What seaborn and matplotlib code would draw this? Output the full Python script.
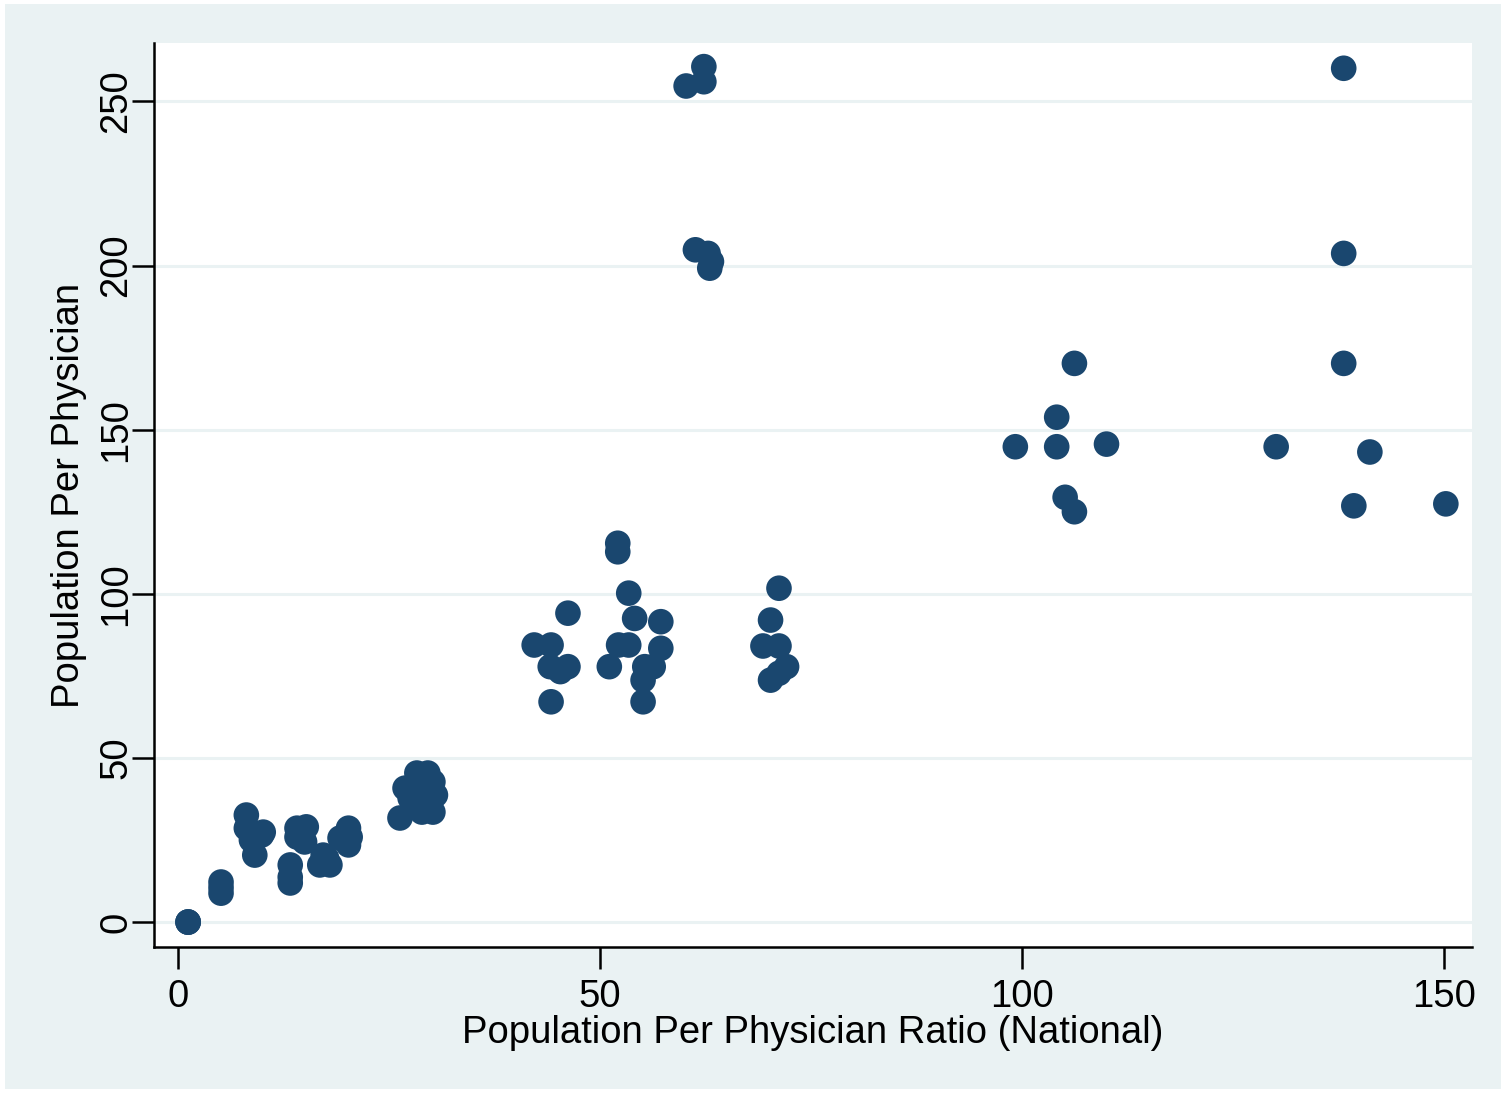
import matplotlib.pyplot as plt
import matplotlib.patches as mpatches
import pandas as pd
import seaborn as sns

# Values
national_ratio = [
    1.2, 1.2, 1.2,
    5.1, 5.1, 5.1,
    8.1, 8.1, 9.9, 8.7, 9.1, 10.1,
    14.1, 15.2, 15.0, 14.1,
    13.3, 13.3, 13.3,
    17.2, 18.0, 16.8, 17.6,
    20.2, 20.2, 19.2, 20.4,
    26.3, 26.9, 28.3, 29.6, 30.2, 30.5, 30.2, 28.9, 27.9, 27.5, 28.7, 29.5,
    42.2, 44.2, 46.2, 44.1, 46.2, 45.3, 44.2,
    52.1, 52.1, 53.4, 54.1, 57.2, 52.2, 53.4, 57.2, 51.1, 55.3, 56.3, 55.1, 55.1,
    71.2, 70.2, 69.3, 71.2, 72.1, 71.2, 70.2,
    60.2, 62.3, 62.3, 61.3, 62.8, 63.2, 63.0,
    106.2, 104.1, 99.2, 104.1, 110.0, 105.1, 106.2,
    130.1, 138.1, 141.2, 139.3, 150.2, 138.1, 138.1,
]
pop_per_physician = [
    0, 0, 0,
    12.2, 10.5, 8.8,
    32.6, 28.6, 26.5, 25.0, 20.4, 27.4,
    28.6, 29.0, 24.4, 25.9,
    17.4, 11.9, 13.7,
    20.4, 17.4, 17.4, 19.5,
    28.6, 23.5, 25.6, 25.9,
    31.7, 40.8, 45.4, 45.4, 42.7, 38.7, 33.5, 33.5, 35.6, 37.8, 39.6, 36.6,
    84.4, 84.4, 94.1, 77.8, 77.8, 76.3, 67.1,
    115.4, 112.8, 100.2, 92.5, 91.5, 84.4, 84.4, 83.4, 77.8, 77.8, 77.8, 73.7, 67.1,
    101.7, 92.0, 84.1, 84.1, 77.8, 75.8, 73.7,
    254.7, 260.6, 256.0, 204.8, 203.7, 201.2, 199.2,
    170.2, 153.8, 144.8, 144.8, 145.6, 129.4, 125.0,
    144.8, 170.2, 143.2, 126.8, 127.4, 260.1, 203.7,
]

df = pd.DataFrame({"ratio": national_ratio, "pop": pop_per_physician})

W, H = 1506, 1093
fig = plt.figure(figsize=(W / 100, H / 100), dpi=100, facecolor="white")
plt.rcParams["font.family"] = ["Liberation Sans", "DejaVu Sans"]

# light outer panel (Stata style), kept behind the axes
fig.patches.append(mpatches.Rectangle((5 / W, 4 / H), (W - 10) / W, (H - 8) / H,
                                      transform=fig.transFigure, facecolor="#EAF2F3",
                                      edgecolor="none", zorder=-10))

ax = fig.add_axes([154 / W, 1 - 947 / H, (1472 - 154) / W, (947 - 43) / H])
ax.set_zorder(5)
ax.set_facecolor("white")

sns.scatterplot(data=df, x="ratio", y="pop", ax=ax, s=340, color="#1A476F",
                edgecolor="none", linewidth=0, zorder=3)

ax.set_xlim(-2.84, 153.3)
ax.set_ylim(-7.6, 267.8)
ax.set_xticks([0, 50, 100, 150])
ax.set_yticks([0, 50, 100, 150, 200, 250])
ax.grid(axis="y", color="#EAF2F3", linewidth=2.2, zorder=0)
ax.grid(axis="x", visible=False)
ax.set_axisbelow(True)

for side in ["top", "right"]:
    ax.spines[side].set_visible(False)
for side in ["left", "bottom"]:
    ax.spines[side].set_linewidth(1.8)
    ax.spines[side].set_color("black")

ax.tick_params(axis="both", direction="out", length=16, width=1.8, labelsize=27.5)
ax.tick_params(axis="x", pad=7)
ax.tick_params(axis="y", pad=-2)
for lab in ax.get_yticklabels():
    lab.set_rotation(90)
    lab.set_va("center")

ax.set_xlabel("Population Per Physician Ratio (National)", fontsize=27.5, labelpad=0)
ax.set_ylabel("Population Per Physician", fontsize=27.5, labelpad=8)

fig.savefig("out.png", dpi=100, facecolor="white")
